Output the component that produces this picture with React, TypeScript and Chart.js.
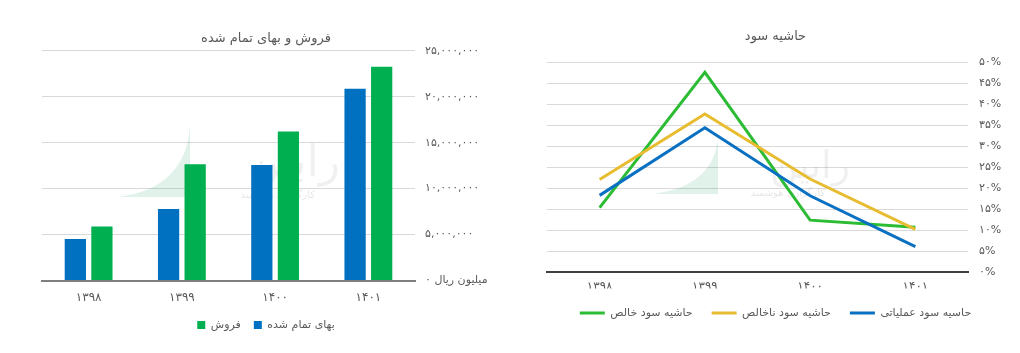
import React, { useEffect, useRef } from 'react';
import { Chart, registerables } from 'chart.js';

Chart.register(...registerables);

// ---- data ----
const years = ['1398', '1399', '1400', '1401'];
const costLabel = 'بهای تمام شده';
const salesLabel = 'فروش';
const costValues = [4530000, 7790000, 12580000, 20870000];
const salesValues = [5870000, 12650000, 16200000, 23260000];
const barTitle = 'فروش و بهای تمام شده';
const barMax = 25000000;
const barStep = 5000000;
const barZeroLabel = 'میلیون ریال ۰';

const lineTitle = 'حاشیه سود';
const operatingLabel = 'حاسیه سود عملیاتی';
const grossLabel = 'حاشیه سود ناخالص';
const netLabel = 'حاشیه سود خالص';
const operatingMargin = [18.3, 34.4, 18.2, 6.1];
const grossMargin = [22.1, 37.7, 22.2, 10.2];
const netMargin = [15.4, 47.6, 12.4, 10.7];
const lineMax = 50;
const lineStep = 5;

const watermarkTitle = 'رابین';
const watermarkSub = 'کارگزاری هوشمند';

// ---- helpers ----
const FONT = '"DejaVu Sans", sans-serif';
const TEXT = '#595959';
const fa = (s: string | number) =>
  String(s).replace(/[0-9]/g, (d) => '۰۱۲۳۴۵۶۷۸۹'[Number(d)]);

function makeWatermark(sx: number, sy: number, ex: number, ey: number, tx: number, ty: number, size: number, sty: number) {
  return {
    id: 'watermark',
    beforeDatasetsDraw(chart: any) {
      const ctx = chart.ctx as CanvasRenderingContext2D;
      ctx.save();
      ctx.fillStyle = 'rgba(0,150,70,0.12)';
      ctx.beginPath();
      ctx.moveTo(sx, ey);
      ctx.lineTo(ex, ey);
      ctx.lineTo(ex, sy);
      ctx.quadraticCurveTo(ex - 4, ey - 8, sx, ey);
      ctx.closePath();
      ctx.fill();
      ctx.fillStyle = 'rgba(0,0,0,0.06)';
      ctx.textAlign = 'right';
      ctx.textBaseline = 'alphabetic';
      ctx.font = `${size}px ${FONT}`;
      ctx.fillText(watermarkTitle, tx, ty);
      ctx.fillStyle = 'rgba(0,0,0,0.1)';
      ctx.font = `10px ${FONT}`;
      ctx.fillText(watermarkSub, tx - 25, sty);
      ctx.restore();
    },
  };
}

function BarChart() {
  const ref = useRef<HTMLCanvasElement>(null);
  useEffect(() => {
    const chart = new Chart(ref.current!, {
      type: 'bar',
      data: {
        labels: years,
        datasets: [
          { label: costLabel, data: costValues, backgroundColor: '#0070C0', borderWidth: 0 },
          { label: salesLabel, data: salesValues, backgroundColor: '#00B050', borderWidth: 0 },
        ],
      },
      options: {
        responsive: false,
        animation: false,
        categoryPercentage: 0.57,
        barPercentage: 0.8,
        layout: { padding: { left: 42, right: 20, top: 31.2, bottom: 12.4 } },
        plugins: {
          tooltip: { enabled: false },
          title: {
            display: true,
            text: barTitle,
            color: TEXT,
            font: { family: FONT, size: 13, weight: 'normal' },
            padding: { top: 0, bottom: 3.9 },
          },
          legend: {
            position: 'bottom',
            reverse: true,
            labels: {
              boxWidth: 8,
              boxHeight: 8,
              padding: 13,
              color: TEXT,
              font: { family: FONT, size: 11 },
            },
          },
        },
        scales: {
          x: {
            grid: { display: false, drawTicks: false },
            border: { display: true, color: '#7f7f7f', width: 2 },
            ticks: {
              padding: 10,
              color: TEXT,
              font: { family: FONT, size: 12 },
              callback: (_v: any, i: number) => fa(years[i]),
            },
            afterFit: (s: any) => {
              s.height = 26;
            },
          },
          y: {
            position: 'right',
            min: 0,
            max: barMax,
            grid: { color: '#d9d9d9', drawTicks: false },
            border: { display: false },
            ticks: {
              stepSize: barStep,
              padding: 10,
              color: TEXT,
              font: { family: FONT, size: 11 },
              callback: (v: any) => (Number(v) === 0 ? barZeroLabel : fa(Number(v).toLocaleString('en-US'))),
            },
            afterFit: (s: any) => {
              s.width = 75;
            },
          },
        },
      } as any,
      plugins: [makeWatermark(117, 125, 190, 197, 340, 176, 44, 198)],
    });
    return () => chart.destroy();
  }, []);
  return <canvas ref={ref} width={510} height={353} />;
}

function LineChart() {
  const ref = useRef<HTMLCanvasElement>(null);
  useEffect(() => {
    const mk = (label: string, data: number[], color: string) => ({
      label,
      data,
      borderColor: color,
      backgroundColor: color,
      borderWidth: 3,
      pointRadius: 0,
      tension: 0,
      fill: false,
    });
    const chart = new Chart(ref.current!, {
      type: 'line',
      data: {
        labels: years,
        datasets: [
          mk(operatingLabel, operatingMargin, '#0A70C2'),
          mk(grossLabel, grossMargin, '#E8BC30'),
          mk(netLabel, netMargin, '#2CBC34'),
        ],
      },
      options: {
        responsive: false,
        animation: false,
        layout: { padding: { left: 37, right: 16, top: 29.2, bottom: 24.4 } },
        plugins: {
          tooltip: { enabled: false },
          title: {
            display: true,
            text: lineTitle,
            color: TEXT,
            font: { family: FONT, size: 13, weight: 'normal' },
            padding: { top: 0, bottom: 17.5 },
          },
          legend: {
            position: 'bottom',
            reverse: true,
            labels: {
              boxWidth: 25,
              boxHeight: 3,
              padding: 19,
              color: TEXT,
              font: { family: FONT, size: 11 },
              generateLabels: (chart: any) => {
                const items = Chart.defaults.plugins.legend.labels.generateLabels(chart);
                return items.map((it: any) => ({ ...it, fillStyle: it.strokeStyle, lineWidth: 0 }));
              },
            },
          },
        },
        scales: {
          x: {
            offset: true,
            grid: { display: false, drawTicks: false },
            border: { display: true, color: '#404040', width: 2 },
            ticks: {
              padding: 7.8,
              color: TEXT,
              font: { family: FONT, size: 12 },
              callback: (_v: any, i: number) => fa(years[i]),
            },
            afterFit: (s: any) => {
              s.height = 16.4;
            },
          },
          y: {
            position: 'right',
            min: 0,
            max: lineMax,
            grid: { color: '#d9d9d9', drawTicks: false },
            border: { display: false },
            ticks: {
              stepSize: lineStep,
              padding: 11,
              color: TEXT,
              font: { family: FONT, size: 11 },
              callback: (v: any) => fa(v) + '%',
            },
            afterFit: (s: any) => {
              s.width = 36;
            },
          },
        },
      } as any,
      plugins: [makeWatermark(143, 137, 208, 194, 340, 178, 38, 196)],
    });
    return () => chart.destroy();
  }, []);
  return <canvas ref={ref} width={510} height={353} />;
}

export default function App() {
  return (
    <div style={{ position: 'fixed', left: 0, top: 0, width: 1020, height: 353, background: '#fff' }}>
      <div style={{ position: 'absolute', left: 0, top: 0, width: 510, height: 353 }}>
        <BarChart />
      </div>
      <div style={{ position: 'absolute', left: 510, top: 0, width: 510, height: 353 }}>
        <LineChart />
      </div>
    </div>
  );
}
